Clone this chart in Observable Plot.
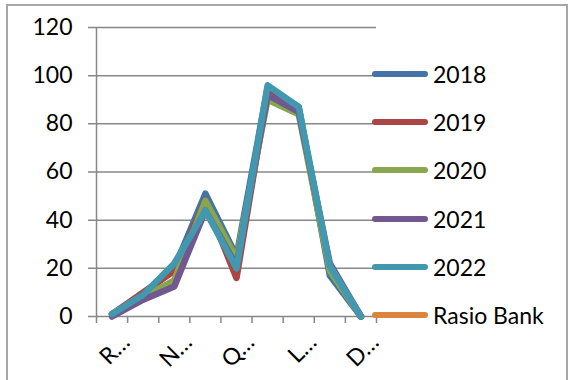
<!DOCTYPE html>
<html><head><meta charset="utf-8">
<script src="https://cdn.jsdelivr.net/npm/d3@7"></script>
<script src="https://cdn.jsdelivr.net/npm/@observablehq/plot@0.6"></script>
<style>
body{margin:0;background:#fff;}
#wrap{position:relative;width:569px;height:380px;overflow:hidden;font-family:Lato,"Open Sans",sans-serif;}
#frame{position:absolute;left:6px;top:4px;width:562px;height:420px;border:2px solid #a6a6a6;box-sizing:border-box;}
#chart{position:absolute;left:0;top:0;}
#legend{position:absolute;left:372px;top:0;}
.item{position:absolute;left:0;display:flex;align-items:center;white-space:nowrap;height:28px;}
.sw{width:56px;height:6px;border-radius:3px;margin-right:5px;}
.lbl{font-size:23px;color:#000;line-height:28px;}
</style></head>
<body>
<div id="wrap"><div id="frame"></div><div id="chart"></div><div id="legend"></div></div>
<script>
const categories = [1, 2, 3, 4, 5, 6, 7, 8, 9];
const xLabels = ["R…", "", "N…", "", "Q…", "", "L…", "", "D…"];
const seriesNames = ["2018", "2019", "2020", "2021", "2022", "Rasio Bank"];
const colors = ["#4572A7", "#AA4643", "#89A54E", "#71588F", "#4198AF", "#DB843D"];
const v2018 = [1, 9, 20, 51, 25, 95, 87, 17, 0];
const v2019 = [1, 10, 19, 48, 16, 94, 86, 20, 0];
const v2020 = [1, 8, 15, 48, 24, 90, 84, 19, 0];
const v2021 = [0, 7, 12.5, 44, 21, 92, 85, 22, 0];
const v2022 = [1, 9, 22, 44, 20, 96, 87, 21, 0];
const vRasio = [null, null, null, null, null, null, null, null, null];
const yTicks = [0, 20, 40, 60, 80, 100, 120];

const allSeries = [v2018, v2019, v2020, v2021, v2022, vRasio];
const data = [];
allSeries.forEach((vals, si) => vals.forEach((v, i) => {
  if (v != null) data.push({s: seriesNames[si], i: categories[i], v});
}));
const bounds = d3.range(categories.length + 1).map(k => categories[0] - 0.5 + k);
const labelled = categories.map((c, i) => ({c, t: xLabels[i]})).filter(d => d.t);
const grid = "#878787";

const plot = Plot.plot({
  width: 569, height: 380,
  marginLeft: 96, marginRight: 193, marginTop: 27, marginBottom: 64,
  style: {fontFamily: "Lato, 'Open Sans', sans-serif", background: "transparent"},
  x: {domain: [0.5, 9.5], axis: null},
  y: {domain: [0, 120], axis: null},
  color: {domain: seriesNames, range: colors},
  marks: [
    Plot.ruleY(yTicks, {stroke: grid, strokeWidth: 1.5, insetLeft: -8}),
    Plot.ruleX([0.5], {y1: () => 0, y2: () => 120, stroke: grid, strokeWidth: 1.5}),
    Plot.ruleX(bounds, {y1: () => 0, y2: () => 0, insetBottom: -7, stroke: grid, strokeWidth: 1.5}),
    Plot.line(data, {x: "i", y: "v", z: "s", stroke: "s", strokeWidth: 6.5, strokeLinejoin: "round", strokeLinecap: "round"}),
    Plot.text(yTicks, {x: () => 0.5, y: d => d, text: d => String(d), textAnchor: "end", dx: -24, fontSize: 23, fill: "#000"}),
    Plot.text(labelled, {x: "c", y: () => 0, text: "t", rotate: -45, textAnchor: "end", dx: 14, dy: 22, fontSize: 23, fill: "#000"})
  ]
});
document.getElementById("chart").appendChild(plot);

const legend = document.getElementById("legend");
seriesNames.forEach((name, k) => {
  const it = document.createElement("div");
  it.className = "item";
  it.style.top = (74 + k * 48.2 - 14) + "px";
  it.innerHTML = `<div class="sw" style="background:${colors[k]}"></div><span class="lbl">${name}</span>`;
  legend.appendChild(it);
});
</script>
</body></html>
